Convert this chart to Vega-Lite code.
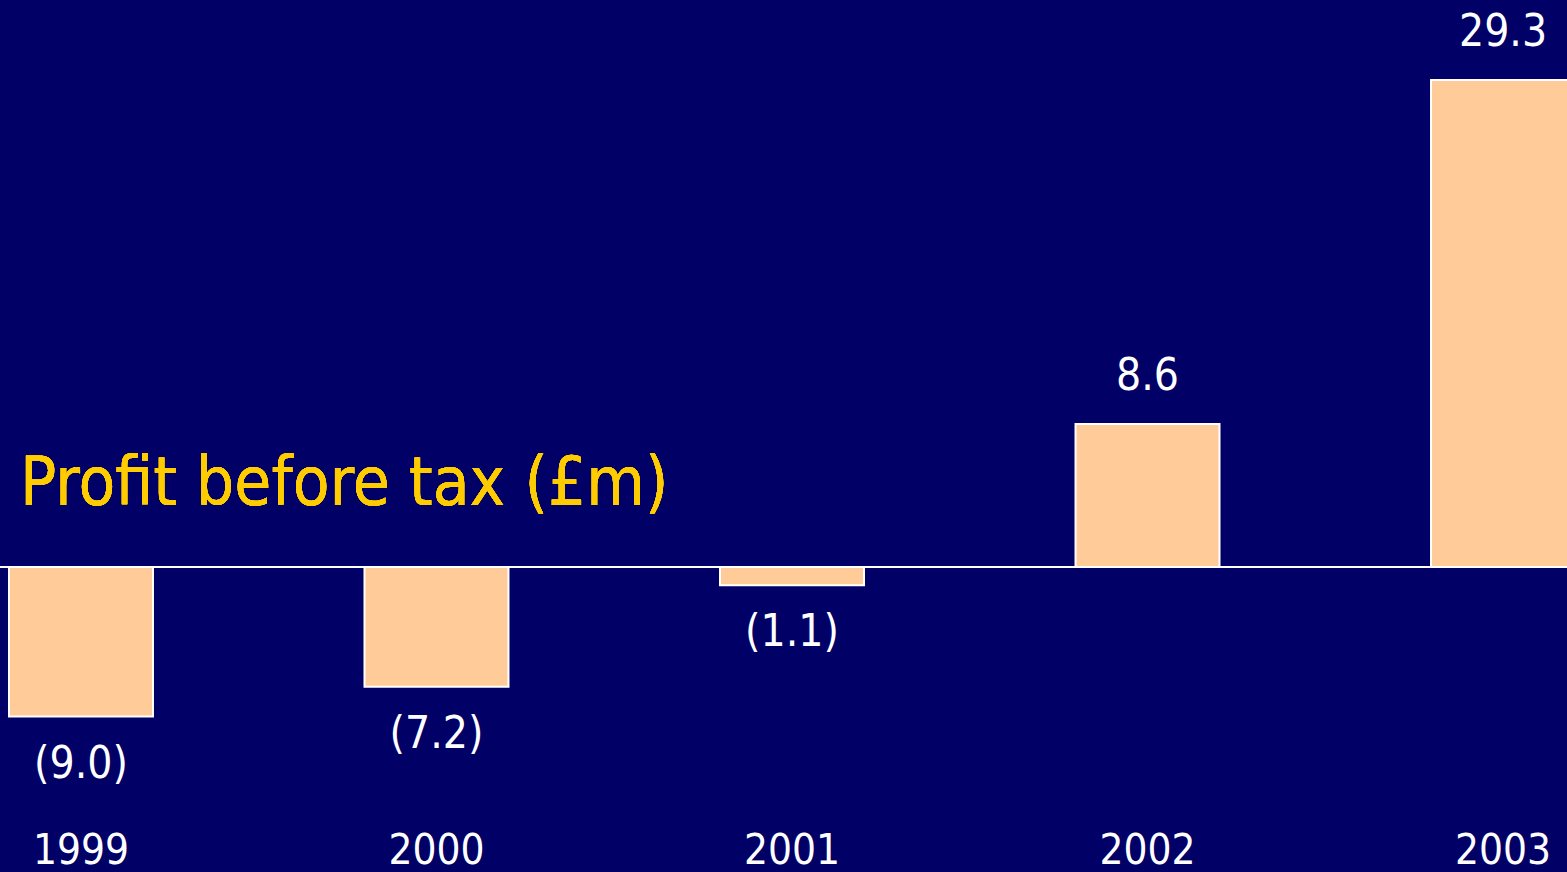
{
  "$schema": "https://vega.github.io/schema/vega-lite/v6.json",
  "width": 1567,
  "height": 872,
  "autosize": {"type": "none"},
  "padding": 0,
  "background": "#000066",
  "config": {"view": {"stroke": null, "fill": "#000066"}},
  "data": {"values": [
    {"year": "1999", "value": -9.0, "label": "(9.0)"},
    {"year": "2000", "value": -7.2, "label": "(7.2)"},
    {"year": "2001", "value": -1.1, "label": "(1.1)"},
    {"year": "2002", "value": 8.6, "label": "8.6"},
    {"year": "2003", "value": 29.3, "label": "29.3"}
  ]},
  "encoding": {
    "x": {"field": "year", "type": "nominal", "axis": null,
      "scale": {"range": [0, 1584], "paddingInner": 0.595, "paddingOuter": 0.0253}}
  },
  "layer": [
    {
      "mark": {"type": "bar", "fill": "#FFCC99", "stroke": "#FFFFFF", "strokeWidth": 2, "clip": true},
      "encoding": {
        "y": {"field": "value", "type": "quantitative", "axis": null,
          "scale": {"domain": [-18.35, 34.11], "nice": false, "zero": false}},
        "y2": {"datum": 0}
      }
    },
    {
      "mark": {"type": "rule", "stroke": "#FFFFFF", "strokeWidth": 2},
      "encoding": {"y": {"datum": 0}, "x": null}
    },
    {
      "transform": [{"filter": "datum.value >= 0"}],
      "mark": {"type": "text", "color": "#FFFFFF", "font": "DejaVu Sans Condensed", "fontSize": 44, "baseline": "middle", "align": "center", "dy": -47},
      "encoding": {
        "y": {"field": "value", "type": "quantitative"},
        "text": {"field": "label"}
      }
    },
    {
      "transform": [{"filter": "datum.value < 0"}],
      "mark": {"type": "text", "color": "#FFFFFF", "font": "DejaVu Sans Condensed", "fontSize": 44, "baseline": "middle", "align": "center", "dy": 48},
      "encoding": {
        "y": {"field": "value", "type": "quantitative"},
        "text": {"field": "label"}
      }
    },
    {
      "mark": {"type": "text", "color": "#FFFFFF", "font": "DejaVu Sans Condensed", "fontSize": 42, "baseline": "middle", "align": "center"},
      "encoding": {
        "y": {"datum": -17.1},
        "text": {"field": "year"}
      }
    },
    {
      "mark": {"type": "text", "color": "#FFCC00", "font": "DejaVu Sans Condensed", "fontSize": 67, "baseline": "alphabetic", "align": "left", "dx": -61},
      "encoding": {
        "x": {"datum": "1999"},
        "y": {"datum": 3.73},
        "text": {"value": "Profit before tax (£m)"}
      }
    }
  ]
}
